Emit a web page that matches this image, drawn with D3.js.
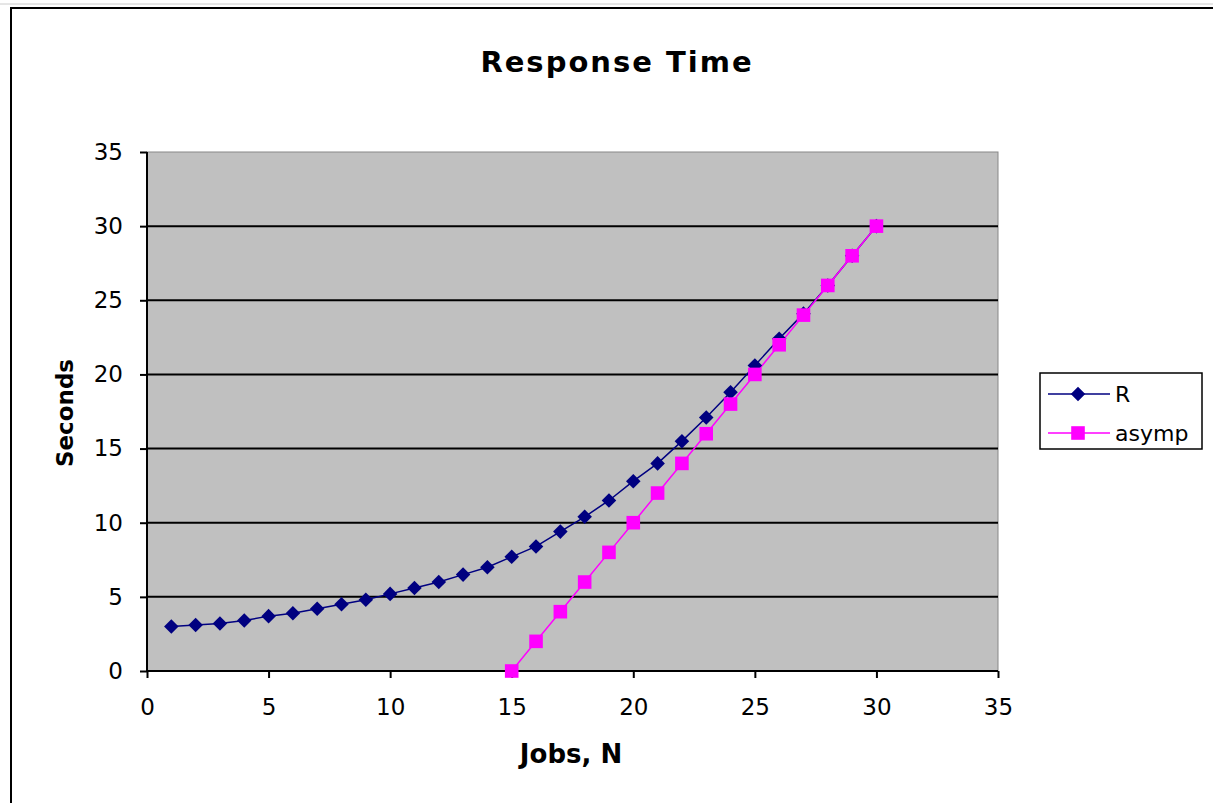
<!DOCTYPE html>
<html>
<head>
<meta charset="utf-8">
<style>
body { margin: 0; background: #fff; }
text { fill: #000; font-family: "DejaVu Sans", sans-serif; }
.tick text { font-size: 23px; }
.domain { display: none; }
</style>
</head>
<body>
<script src="https://d3js.org/d3.v7.min.js"></script>
<script>

// jobs N
var jobs = [1,2,3,4,5,6,7,8,9,10,11,12,13,14,15,16,17,18,19,20,21,22,23,24,25,26,27,28,29,30];
// response time R (seconds)
var rValues = [3.0,3.1,3.2,3.4,3.7,3.9,4.2,4.5,4.8,5.2,5.6,6.0,6.5,7.0,7.7,8.4,9.4,10.4,11.5,12.8,14.0,15.5,17.1,18.8,20.6,22.4,24.1,26.0,28.0,30.0];
// asymptote, defined from N = 15
var asympJobs = [15,16,17,18,19,20,21,22,23,24,25,26,27,28,29,30];
var asympValues = [0,2,4,6,8,10,12,14,16,18,20,22,24,26,28,30];
var tickValues = [0,5,10,15,20,25,30,35];

var width = 1213, height = 803;
var plot = {left: 147, top: 152, right: 998, bottom: 671};

var svg = d3.select("body").append("svg")
    .attr("width", width)
    .attr("height", height);

// chart area border
svg.append("line").attr("x1", 0).attr("x2", width).attr("y1", 4).attr("y2", 4)
    .attr("stroke", "#ccc").attr("stroke-width", 1);
svg.append("rect")
    .attr("x", 11).attr("y", 8)
    .attr("width", width + 20).attr("height", height + 20)
    .attr("fill", "#fff").attr("stroke", "#000").attr("stroke-width", 2);

var x = d3.scaleLinear().domain([0, 35]).range([plot.left, plot.right]);
var y = d3.scaleLinear().domain([0, 35]).range([plot.bottom, plot.top]);

// plot area
svg.append("rect")
    .attr("x", plot.left).attr("y", plot.top)
    .attr("width", plot.right - plot.left).attr("height", plot.bottom - plot.top)
    .attr("fill", "#c0c0c0").attr("stroke", "#888").attr("stroke-width", 1);

// gridlines
svg.append("g").selectAll("line")
    .data(tickValues.slice(1, -1))
    .enter().append("line")
    .attr("x1", plot.left).attr("x2", plot.right)
    .attr("y1", function(d) { return y(d); })
    .attr("y2", function(d) { return y(d); })
    .attr("stroke", "#000").attr("stroke-width", 2);

// axes
svg.append("g")
    .attr("transform", "translate(0," + plot.bottom + ")")
    .call(d3.axisBottom(x).tickValues(tickValues).tickSize(7).tickPadding(21))
    .call(function(g) { g.selectAll(".tick line").attr("stroke", "#000").attr("stroke-width", 2); });

svg.append("g")
    .attr("transform", "translate(" + plot.left + ",0)")
    .call(d3.axisLeft(y).tickValues(tickValues).tickSize(7).tickPadding(17))
    .call(function(g) { g.selectAll(".tick line").attr("stroke", "#000").attr("stroke-width", 2); });

svg.append("line")
    .attr("x1", plot.left).attr("x2", plot.left)
    .attr("y1", plot.top).attr("y2", plot.bottom)
    .attr("stroke", "#000").attr("stroke-width", 2);
svg.append("line")
    .attr("x1", plot.left).attr("x2", plot.right)
    .attr("y1", plot.bottom).attr("y2", plot.bottom)
    .attr("stroke", "#000").attr("stroke-width", 2);

// titles
svg.append("text")
    .attr("x", 617).attr("y", 72)
    .attr("text-anchor", "middle")
    .style("font-size", "29px").style("font-weight", "bold")
    .style("letter-spacing", "2px")
    .text("Response Time");

svg.append("text")
    .attr("x", 571).attr("y", 763)
    .attr("text-anchor", "middle")
    .style("font-size", "26px").style("font-weight", "bold")
    .text("Jobs, N");

svg.append("text")
    .attr("transform", "translate(73,413) rotate(-90)")
    .attr("text-anchor", "middle")
    .style("font-size", "23px").style("font-weight", "bold")
    .text("Seconds");

var line = d3.line()
    .x(function(d) { return x(d[0]); })
    .y(function(d) { return y(d[1]); });

var rData = jobs.map(function(n, i) { return [n, rValues[i]]; });
var aData = asympJobs.map(function(n, i) { return [n, asympValues[i]]; });

var navy = "#000080", magenta = "#ff00ff";
var diamond = d3.symbol().type(d3.symbolDiamond2).size(135);
var square = d3.symbol().type(d3.symbolSquare).size(185);

svg.append("path").datum(rData)
    .attr("d", line).attr("fill", "none")
    .attr("stroke", navy).attr("stroke-width", 1.5);

svg.append("path").datum(aData)
    .attr("d", line).attr("fill", "none")
    .attr("stroke", magenta).attr("stroke-width", 1.5);

svg.append("g").selectAll("path")
    .data(rData)
    .enter().append("path")
    .attr("d", diamond)
    .attr("transform", function(d) { return "translate(" + x(d[0]) + "," + y(d[1]) + ")"; })
    .attr("fill", navy);

svg.append("g").selectAll("path")
    .data(aData)
    .enter().append("path")
    .attr("d", square)
    .attr("transform", function(d) { return "translate(" + x(d[0]) + "," + y(d[1]) + ")"; })
    .attr("fill", magenta);

// legend
var legend = svg.append("g");
legend.append("rect")
    .attr("x", 1040).attr("y", 373)
    .attr("width", 162).attr("height", 76)
    .attr("fill", "#fff").attr("stroke", "#000").attr("stroke-width", 1.5);

var items = [
  {name: "R", color: navy, sym: diamond, y: 394},
  {name: "asymp", color: magenta, sym: square, y: 433}
];
items.forEach(function(it) {
  legend.append("line")
      .attr("x1", 1048).attr("x2", 1110)
      .attr("y1", it.y).attr("y2", it.y)
      .attr("stroke", it.color).attr("stroke-width", 1.5);
  legend.append("path")
      .attr("d", it.sym)
      .attr("transform", "translate(1078," + it.y + ")")
      .attr("fill", it.color);
  legend.append("text")
      .attr("x", 1115).attr("y", it.y + 8)
      .style("font-size", "22px")
      .text(it.name);
});

</script>
</body>
</html>
